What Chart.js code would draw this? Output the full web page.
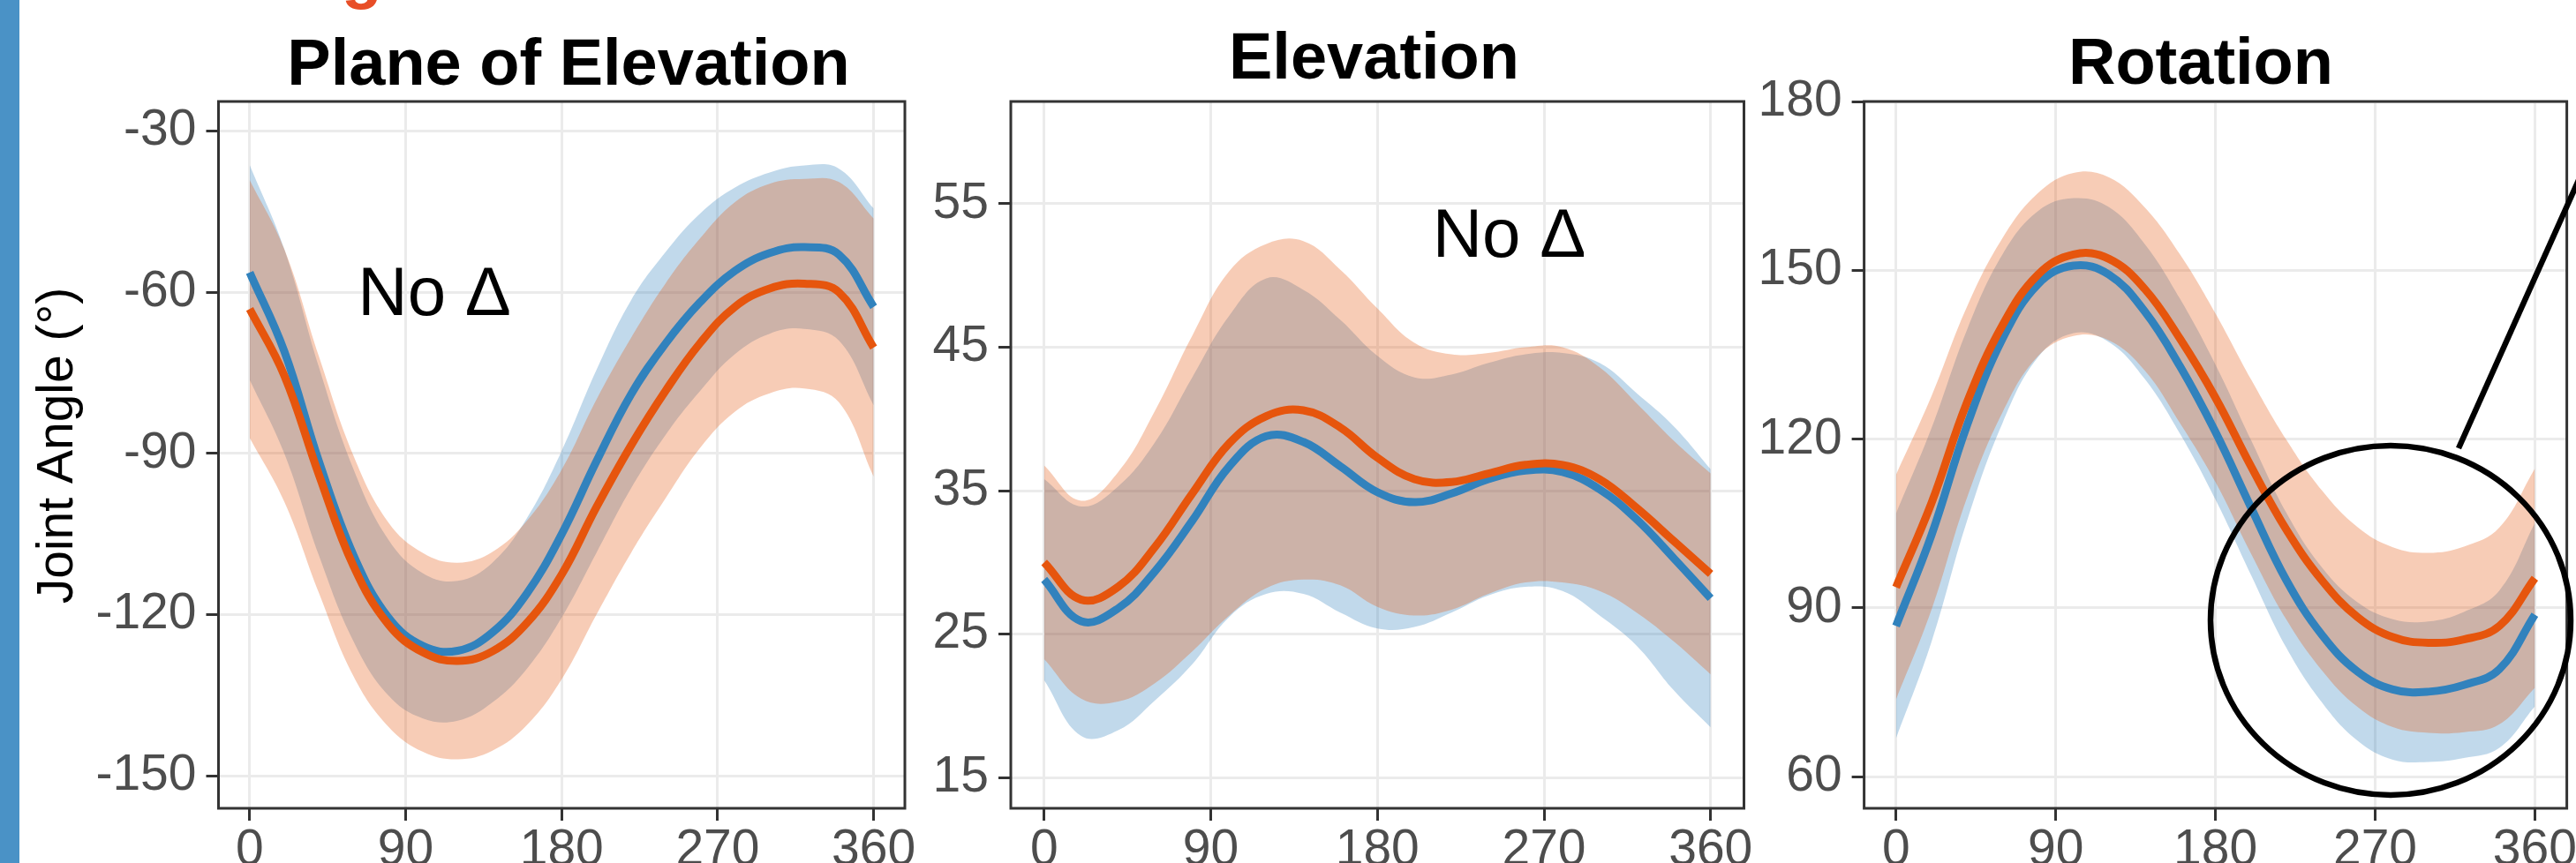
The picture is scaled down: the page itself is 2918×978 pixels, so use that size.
<!DOCTYPE html>
<html lang="es">
<head>
<meta charset="utf-8">
<title>Ángulos articulares</title>
<script src="https://cdn.jsdelivr.net/npm/chart.js@4.4.1/dist/chart.umd.min.js"></script>
<style>
  html, body { margin: 0; padding: 0; background: #fff; overflow: hidden; }
  #lienzo { position: relative; width: 2918px; height: 978px; overflow: hidden; background: #fff; }
  canvas { position: absolute; top: 0; }
  #barra-azul { position: absolute; left: 0; top: 0; width: 22px; height: 978px; background: #4a92c6; }
  #texto-rojo { position: absolute; left: 387px; top: -67px; font: bold 75px 'Liberation Sans', Arial, sans-serif; line-height: 1; color: #e84e27; }
</style>
</head>
<body>
<div id="lienzo">
  <div id="barra-azul"></div>
  <div id="texto-rojo">g</div>
  <canvas id="panel1" width="1060" height="1000" style="left:0px"></canvas>
  <canvas id="panel2" width="1000" height="1000" style="left:1030px"></canvas>
  <canvas id="panel3" width="960" height="1000" style="left:1990px"></canvas>
</div>
<script>
// grados del ciclo (eje x comun a los tres paneles)
const grados = [0, 20, 40, 60, 80, 100, 120, 140, 160, 180, 200, 220, 240, 260, 280, 300, 320, 340, 360];
const ticksX = [0, 90, 180, 270, 360];

// Plane of Elevation
const azulPlano = [-56.3, -71.0, -91.5, -109.0, -120.5, -125.8, -126.7, -123.3, -116.0, -105.0, -91.5, -79.0, -69.5, -61.8, -56.0, -52.7, -51.6, -53.0, -62.7];
const azulPlanoSup = [-36.3, -52.0, -74.0, -93.0, -106.0, -112.3, -113.7, -110.3, -102.0, -89.5, -74.5, -61.5, -52.5, -45.3, -40.5, -37.7, -36.4, -37.0, -44.4];
const azulPlanoInf = [-76.3, -90.0, -109.0, -125.0, -135.0, -139.3, -139.7, -136.3, -130.0, -120.5, -108.5, -96.5, -86.5, -78.3, -71.5, -67.7, -66.8, -69.0, -81.0];
const naranjaPlano = [-63.1, -75.5, -94.0, -111.0, -121.8, -127.0, -128.6, -126.8, -121.5, -112.5, -100.0, -88.5, -78.3, -69.4, -62.7, -59.3, -58.4, -60.0, -70.3];
const naranjaPlanoSup = [-39.1, -52.0, -72.0, -90.5, -102.8, -108.5, -110.3, -108.3, -102.5, -93.0, -80.0, -68.5, -58.3, -49.9, -43.2, -39.8, -38.9, -39.5, -46.3];
const naranjaPlanoInf = [-87.1, -99.0, -116.0, -131.5, -140.8, -145.5, -146.9, -145.3, -140.5, -132.0, -120.0, -108.5, -98.3, -88.9, -82.2, -78.8, -77.9, -80.5, -94.3];
const ticksYPlano = [-150, -120, -90, -60, -30];

// Elevation
const azulElev = [28.8, 25.9, 26.8, 29.4, 32.9, 36.7, 38.8, 38.4, 36.7, 34.9, 34.2, 34.8, 35.8, 36.4, 36.3, 35.1, 33.0, 30.3, 27.5];
const azulElevSup = [35.8, 33.9, 35.3, 38.4, 42.9, 47.2, 49.8, 49.0, 46.9, 44.4, 42.9, 43.1, 43.9, 44.5, 44.6, 43.9, 41.8, 39.5, 36.5];
const azulElevInf = [21.8, 17.9, 18.3, 20.4, 22.9, 26.2, 27.8, 27.8, 26.5, 25.4, 25.5, 26.5, 27.7, 28.3, 28.0, 26.3, 24.2, 21.1, 18.5];
const naranjaElev = [30.0, 27.4, 28.3, 31.1, 34.8, 38.3, 40.2, 40.6, 39.4, 37.3, 35.8, 35.6, 36.2, 36.8, 36.8, 35.8, 33.8, 31.5, 29.2];
const naranjaElevSup = [36.75, 34.3, 36.3, 40.6, 45.8, 50.3, 52.2, 52.4, 50.4, 47.7, 45.3, 44.5, 44.6, 45.0, 45.0, 43.6, 41.1, 38.5, 36.2];
const naranjaElevInf = [23.25, 20.5, 20.3, 21.6, 23.8, 26.3, 28.2, 28.8, 28.4, 26.9, 26.3, 26.7, 27.8, 28.6, 28.6, 28.0, 26.5, 24.5, 22.2];
const ticksYElev = [15, 25, 35, 45, 55];

// Rotation
const azulRot = [86.8, 103.0, 122.5, 137.9, 147.6, 150.9, 149.3, 142.8, 133.0, 121.3, 107.9, 94.9, 85.2, 78.7, 75.5, 75.1, 76.3, 79.1, 88.8];
const azulRotSup = [106.8, 122.0, 139.5, 152.9, 160.6, 162.9, 161.3, 154.8, 145.0, 133.3, 119.9, 106.9, 97.2, 91.0, 88.0, 87.6, 89.3, 93.1, 105.1];
const azulRotInf = [66.8, 84.0, 105.5, 122.9, 134.6, 138.9, 137.3, 130.8, 121.0, 109.3, 95.9, 82.9, 73.2, 66.4, 63.0, 62.6, 63.3, 65.1, 72.5];
const naranjaRot = [93.7, 108.7, 126.6, 140.3, 149.3, 152.9, 152.1, 146.8, 137.9, 127.4, 115.2, 103.9, 94.9, 88.4, 84.8, 83.8, 84.4, 86.8, 95.3];
const naranjaRotSup = [113.7, 127.7, 143.6, 155.8, 163.8, 167.4, 166.6, 161.3, 152.9, 142.4, 130.7, 119.9, 110.9, 104.4, 100.8, 99.8, 100.9, 104.3, 114.8];
const naranjaRotInf = [73.7, 89.7, 109.6, 124.8, 134.8, 138.4, 137.6, 132.3, 122.9, 112.4, 99.7, 87.9, 78.9, 72.4, 68.8, 67.8, 67.9, 69.3, 75.8];
const ticksYRot = [60, 90, 120, 150, 180];

const FUENTE = "'Liberation Sans', Arial, Helvetica, sans-serif";
const AZUL = '#3182bd';
const NARANJA = '#e6550d';
const RELLENO_AZUL = 'rgba(49, 130, 189, 0.3)';
const RELLENO_NARANJA = 'rgba(230, 85, 13, 0.3)';

// plugin para el marco del panel, titulos y anotaciones
const decoracion = {
  id: 'decoracion',
  afterDatasetsDraw(chart, args, opts) {
    const { ctx, chartArea: area, scales } = chart;
    ctx.save();
    ctx.strokeStyle = '#333333';
    ctx.lineWidth = 3;
    ctx.strokeRect(area.left, area.top, area.right - area.left, area.bottom - area.top);

    if (opts.nota) {
      ctx.fillStyle = '#000';
      ctx.font = `78px ${FUENTE}`;
      ctx.textAlign = 'left';
      ctx.textBaseline = 'alphabetic';
      ctx.fillText(opts.nota.texto, scales.x.getPixelForValue(opts.nota.x), scales.y.getPixelForValue(opts.nota.y));
    }

    if (opts.circulo) {
      const cx = scales.x.getPixelForValue(opts.circulo.x);
      const cy = scales.y.getPixelForValue(opts.circulo.y);
      ctx.strokeStyle = '#000';
      ctx.lineWidth = 6.5;
      ctx.beginPath();
      ctx.ellipse(cx, cy, opts.circulo.rx, opts.circulo.ry, 0, 0, Math.PI * 2);
      ctx.stroke();
      // linea que sale del circulo hacia fuera de la figura
      ctx.lineWidth = 6.5;
      ctx.beginPath();
      ctx.moveTo(cx + 77, cy - 195);
      ctx.lineTo(cx + 77 + 170, cy - 195 - 380);
      ctx.stroke();
    }
    ctx.restore();
  },
  afterDraw(chart, args, opts) {
    const ctx = chart.ctx;
    ctx.save();
    ctx.fillStyle = '#000';
    ctx.textAlign = 'center';
    ctx.textBaseline = 'alphabetic';
    ctx.font = `bold 74px ${FUENTE}`;
    ctx.fillText(opts.titulo, opts.tituloX, opts.tituloY);
    if (opts.ejeY) {
      ctx.font = `57px ${FUENTE}`;
      ctx.translate(opts.ejeY.x, opts.ejeY.y);
      ctx.rotate(-Math.PI / 2);
      ctx.fillText(opts.ejeY.texto, 0, 0);
    }
    ctx.restore();
  }
};

function crearPanel(idCanvas, p) {
  const serie = valores => grados.map((g, i) => ({ x: g, y: valores[i] }));
  const comun = { pointRadius: 0, tension: 0.4 };
  const banda = { borderColor: 'transparent', borderWidth: 0 };

  new Chart(document.getElementById(idCanvas), {
    type: 'line',
    data: {
      datasets: [
        { ...comun, data: serie(p.naranja), borderColor: NARANJA, borderWidth: 9, fill: false },
        { ...comun, data: serie(p.azul), borderColor: AZUL, borderWidth: 9, fill: false },
        { ...comun, ...banda, data: serie(p.naranjaSup), backgroundColor: RELLENO_NARANJA, fill: '+1' },
        { ...comun, ...banda, data: serie(p.naranjaInf), fill: false },
        { ...comun, ...banda, data: serie(p.azulSup), backgroundColor: RELLENO_AZUL, fill: '+1' },
        { ...comun, ...banda, data: serie(p.azulInf), fill: false }
      ]
    },
    options: {
      responsive: false,
      animation: false,
      devicePixelRatio: 1,
      events: [],
      layout: { padding: { left: 0, top: 115, right: p.margenDer, bottom: 0 } },
      plugins: {
        legend: { display: false },
        tooltip: { enabled: false },
        decoracion: p.decoracion
      },
      scales: {
        x: {
          type: 'linear',
          min: -18,
          max: 378,
          afterBuildTicks: eje => { eje.ticks = ticksX.map(v => ({ value: v })); },
          afterFit: eje => { eje.height = 84; },
          grid: { color: '#ebebeb', lineWidth: 3, tickColor: '#333333', tickWidth: 3, tickLength: 14 },
          border: { display: false },
          ticks: { font: { family: FUENTE, size: 57 }, color: '#4d4d4d', padding: 0, maxRotation: 0, autoSkip: false, callback: v => String(v) }
        },
        y: {
          type: 'linear',
          min: p.rangoY[0],
          max: p.rangoY[1],
          afterBuildTicks: eje => { eje.ticks = p.ticksY.map(v => ({ value: v })); },
          afterFit: eje => { eje.width = p.anchoEjeY; },
          grid: { color: '#ebebeb', lineWidth: 3, tickColor: '#333333', tickWidth: 3, tickLength: 14 },
          border: { display: false },
          ticks: { font: { family: FUENTE, size: 57 }, color: '#4d4d4d', padding: 11, autoSkip: false, callback: v => String(v) }
        }
      }
    },
    plugins: [decoracion]
  });
}

crearPanel('panel1', {
  azul: azulPlano, azulSup: azulPlanoSup, azulInf: azulPlanoInf,
  naranja: naranjaPlano, naranjaSup: naranjaPlanoSup, naranjaInf: naranjaPlanoInf,
  ticksY: ticksYPlano, rangoY: [-156, -24.5],
  anchoEjeY: 247.5, margenDer: 35,
  decoracion: {
    titulo: 'Plane of Elevation', tituloX: 644, tituloY: 96,
    ejeY: { texto: 'Joint Angle (°)', x: 82, y: 505 },
    nota: { texto: 'No Δ', x: 62.4, y: -64.2 }
  }
});

crearPanel('panel2', {
  azul: azulElev, azulSup: azulElevSup, azulInf: azulElevInf,
  naranja: naranjaElev, naranjaSup: naranjaElevSup, naranjaInf: naranjaElevInf,
  ticksY: ticksYElev, rangoY: [12.86, 62.13],
  anchoEjeY: 115, margenDer: 54.5,
  decoracion: {
    titulo: 'Elevation', tituloX: 526.5, tituloY: 89,
    nota: { texto: 'No Δ', x: 209.8, y: 51.3 }
  }
});

crearPanel('panel3', {
  azul: azulRot, azulSup: azulRotSup, azulInf: azulRotInf,
  naranja: naranjaRot, naranjaSup: naranjaRotSup, naranjaInf: naranjaRotInf,
  ticksY: ticksYRot, rangoY: [54.36, 180.1],
  anchoEjeY: 121.6, margenDer: 42.4,
  decoracion: {
    titulo: 'Rotation', tituloX: 503, tituloY: 95,
    circulo: { x: 278.7, y: 87.8, rx: 204, ry: 198 }
  }
});
</script>
</body>
</html>
